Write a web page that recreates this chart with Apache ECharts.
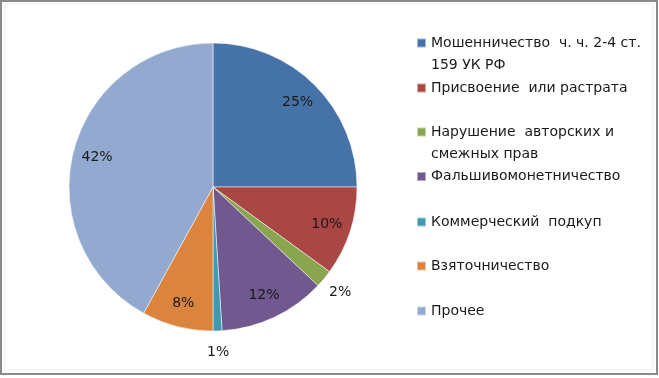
<!DOCTYPE html>
<html>
<head>
<meta charset="utf-8">
<script src="https://cdn.jsdelivr.net/npm/echarts@6/dist/echarts.min.js"></script>
<style>
  html, body { margin: 0; padding: 0; background: #fff; }
  #chart { width: 659px; height: 378px; }
</style>
</head>
<body>
<div id="chart"></div>
<script>
// Shares of crimes by type, percent
const categories = [
  'Мошенничество  ч. ч. 2-4 ст.\n159 УК РФ',
  'Присвоение  или растрата',
  'Нарушение  авторских и\nсмежных прав',
  'Фальшивомонетничество',
  'Коммерческий  подкуп',
  'Взяточничество',
  'Прочее'
];
const values = [25, 10, 2, 12, 1, 8, 42];
const colors = ['#4572A7', '#AA4643', '#89A54E', '#71588F', '#4198AF', '#DB843D', '#93A9CF'];
// labels drawn outside the pie (small slices)
const outsideIdx = [2, 4];

const FONT = '"DejaVu Sans", sans-serif';
const LH = 22;
const center = [213, 187];
const R = 144;
// vertical centre of the first text line of each legend entry
const legendCenters = [43, 88, 132, 176.5, 222, 266, 311];

const chart = echarts.init(document.getElementById('chart'));

const pieData = categories.map((name, i) => ({
  name: name,
  value: values[i],
  itemStyle: { color: colors[i] }
}));

const labelRing = (r0, r1, showFn) => ({
  type: 'pie',
  silent: true,
  center: center,
  radius: [r0, r1],
  startAngle: 90,
  clockwise: true,
  avoidLabelOverlap: false,
  animation: false,
  itemStyle: { color: 'transparent' },
  labelLine: { show: false },
  data: categories.map((name, i) => ({
    name: name,
    value: values[i],
    label: { show: showFn(i) }
  })),
  label: {
    position: 'inside',
    formatter: '{c}%',
    fontFamily: FONT,
    fontSize: 14,
    color: '#1a1a1a'
  },
  tooltip: { show: false }
});

chart.setOption({
  animation: false,
  graphic: [
    {
      type: 'rect',
      shape: { x: 1, y: 1, width: 656, height: 373 },
      style: { fill: 'none', stroke: '#8a8a8a', lineWidth: 2 },
      silent: true
    },
    {
      type: 'rect',
      shape: { x: 5, y: 4, width: 648, height: 366 },
      style: { fill: 'none', stroke: '#ececec', lineWidth: 1 },
      silent: true
    }
  ],
  legend: categories.map((name, i) => {
    const multi = name.indexOf('\n') >= 0;
    return {
      data: [name],
      orient: 'vertical',
      left: 416,
      // multi-line entries get a blank leading line so the first line sits by the icon
      top: legendCenters[i] - (multi ? LH * 1.5 : LH / 2),
      padding: 0,
      itemWidth: 9,
      itemHeight: 9,
      icon: 'rect',
      selectedMode: false,
      formatter: n => (multi ? ' \n' + n : n),
      textStyle: {
        fontFamily: FONT,
        fontSize: 14,
        color: '#1a1a1a',
        lineHeight: LH
      }
    };
  }),
  series: [
    {
      type: 'pie',
      name: 'main',
      center: center,
      radius: [0, R],
      startAngle: 90,
      clockwise: true,
      animation: false,
      label: { show: false },
      labelLine: { show: false },
      itemStyle: { borderColor: 'rgba(255,255,255,0.5)', borderWidth: 1 },
      data: pieData
    },
    labelRing(R * 0.62, R, i => outsideIdx.indexOf(i) < 0),
    labelRing(R, R * 1.25, i => outsideIdx.indexOf(i) >= 0)
  ]
});
</script>
</body>
</html>
